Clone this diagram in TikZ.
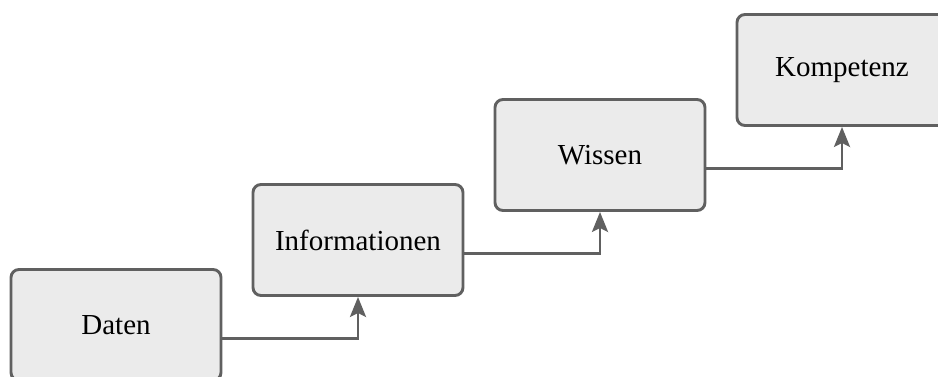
\documentclass[tikz,border=0pt]{standalone}
\usepackage{fontspec}
\setmainfont{Liberation Serif}
\usetikzlibrary{arrows.meta}
\definecolor{edge}{HTML}{606060}
\definecolor{boxfill}{HTML}{EBEBEB}
\begin{document}
\begin{tikzpicture}[x=1pt,y=-1pt,
  stage/.style={draw=edge, fill=boxfill, line width=2.9pt, rounded corners=8pt,
    minimum width=210pt, minimum height=111pt, inner sep=0pt,
    font=\fontsize{29}{33}\selectfont, text=black},
  conn/.style={draw=edge, line width=2.9pt,
    -{Stealth[length=20pt,width=16pt,inset=4pt]}}]
  \useasboundingbox (0,0) rectangle (938,376);
  \node[stage] (daten) at (116,325) {Daten};
  \node[stage] (info)  at (358,240) {Informationen};
  \node[stage] (wissen) at (600,155) {Wissen};
  \node[stage] (komp)  at (842,70) {Kompetenz};
  \draw[conn] ([yshift=-13.5pt]daten.east) -| (info.south);
  \draw[conn] ([yshift=-13.5pt]info.east) -| (wissen.south);
  \draw[conn] ([yshift=-13.5pt]wissen.east) -| (komp.south);
\end{tikzpicture}
\end{document}
